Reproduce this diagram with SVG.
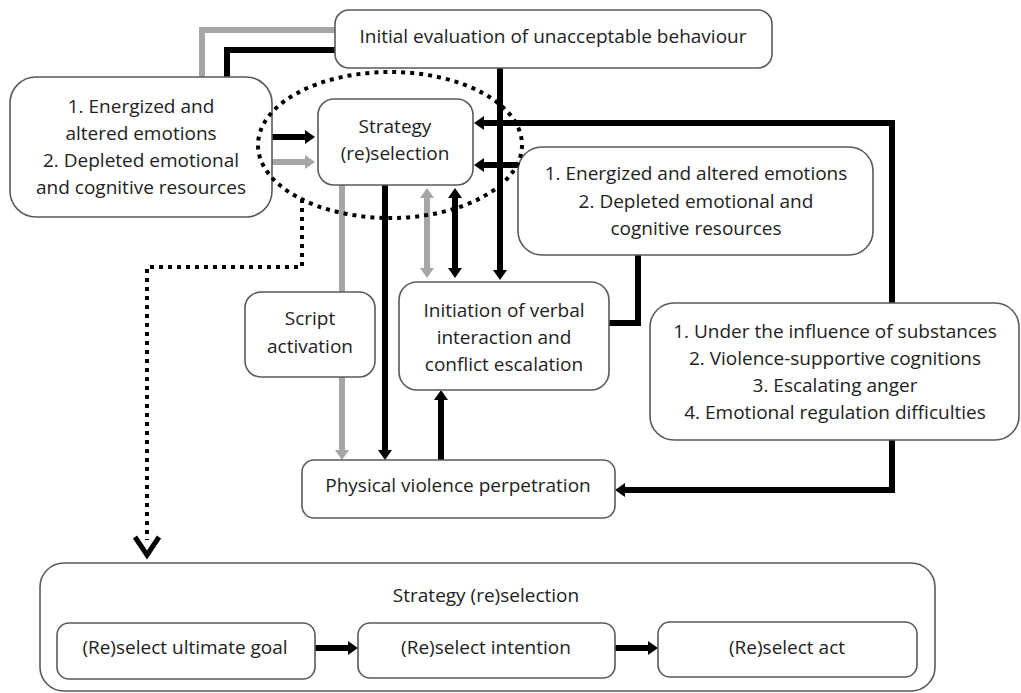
<svg xmlns="http://www.w3.org/2000/svg" width="1021" height="693" viewBox="0 0 1021 693">
<style>
.box{fill:#fff;stroke:#5a5a5a;stroke-width:1.6}
.frame{fill:none;stroke:#5a5a5a;stroke-width:1.6}
.t{font-family:"Open Sans","Liberation Sans",sans-serif;font-size:19px;fill:#222;text-anchor:middle}
.k{fill:none;stroke:#000;stroke-width:6}
.g{fill:none;stroke:#a6a6a6;stroke-width:6}
.dot{fill:none;stroke:#000;stroke-width:4;stroke-dasharray:4 5}
</style>
<defs>
<marker id="ak" viewBox="0 0 10 14" refX="2" refY="7" markerWidth="10" markerHeight="14" markerUnits="userSpaceOnUse" orient="auto-start-reverse"><path d="M0,0 L10,7 L0,14 z" fill="#000"/></marker>
<marker id="ag" viewBox="0 0 10 14" refX="2" refY="7" markerWidth="10" markerHeight="14" markerUnits="userSpaceOnUse" orient="auto-start-reverse"><path d="M0,0 L10,7 L0,14 z" fill="#a6a6a6"/></marker>
</defs>
<rect width="1021" height="693" fill="#fff"/>
<g id="node-strategy-detail">
<rect class="frame" x="40" y="563" width="895" height="128" rx="24"/>
<text class="t" x="486" y="602">Strategy (re)selection</text>
</g>
<g id="connectors">
<path class="g" d="M335,30 H202 V77"/>
<path class="k" d="M335,50 H227 V77"/>
<path class="k" d="M272,137 H307" marker-end="url(#ak)"/>
<path class="g" d="M272,162 H307" marker-end="url(#ag)"/>
<path class="k" d="M500,68 V272" marker-end="url(#ak)"/>
<path class="k" d="M892,303 V123 H482" marker-end="url(#ak)"/>
<path class="k" d="M518,165 H482" marker-end="url(#ak)"/>
<path class="k" d="M638,255 V323 H609"/>
<path class="k" d="M385,185 V452" marker-end="url(#ak)"/>
<path class="g" d="M342,185 V292"/>
<path class="g" d="M342,377 V452" marker-end="url(#ag)"/>
<path class="g" d="M427,196 V270" marker-start="url(#ag)" marker-end="url(#ag)"/>
<path class="k" d="M455,196 V270" marker-start="url(#ak)" marker-end="url(#ak)"/>
<path class="k" d="M441,460 V398" marker-end="url(#ak)"/>
<path class="k" d="M892,440 V490 H623" marker-end="url(#ak)"/>
<path class="k" d="M315,648 H350" marker-end="url(#ak)"/>
<path class="k" d="M615,648 H650" marker-end="url(#ak)"/>
<path class="dot" d="M302,199 V267 H147 V540"/>
<path d="M135,537 L147,555 L159,537" fill="none" stroke="#000" stroke-width="5"/>
</g>
<g id="node-initial">
<rect class="box" x="335" y="10" width="437" height="58" rx="14"/>
<text class="t" x="553" y="43">Initial evaluation of unacceptable behaviour</text>
</g>
<g id="node-left-emotions">
<rect class="box" x="10" y="77" width="262" height="140" rx="26"/>
<text class="t" x="141" y="113">1. Energized and</text>
<text class="t" x="141" y="140">altered emotions</text>
<text class="t" x="141" y="167">2. Depleted emotional</text>
<text class="t" x="141" y="194">and cognitive resources</text>
</g>
<g id="node-strategy">
<rect class="box" x="318" y="99" width="155" height="86" rx="16"/>
<text class="t" x="395" y="133">Strategy</text>
<text class="t" x="395" y="160">(re)selection</text>
</g>
<g id="node-right-emotions">
<rect class="box" x="518" y="147" width="355" height="108" rx="24"/>
<text class="t" x="696" y="180">1. Energized and altered emotions</text>
<text class="t" x="696" y="208">2. Depleted emotional and</text>
<text class="t" x="696" y="235">cognitive resources</text>
</g>
<g id="node-script">
<rect class="box" x="245" y="292" width="130" height="85" rx="16"/>
<text class="t" x="310" y="325">Script</text>
<text class="t" x="310" y="353">activation</text>
</g>
<g id="node-initiation">
<rect class="box" x="399" y="282" width="210" height="108" rx="18"/>
<text class="t" x="504" y="317">Initiation of verbal</text>
<text class="t" x="504" y="344">interaction and</text>
<text class="t" x="504" y="371">conflict escalation</text>
</g>
<g id="node-influences">
<rect class="box" x="650" y="303" width="369" height="137" rx="24"/>
<text class="t" x="835" y="338">1. Under the influence of substances</text>
<text class="t" x="835" y="365">2. Violence-supportive cognitions</text>
<text class="t" x="835" y="392">3. Escalating anger</text>
<text class="t" x="835" y="419">4. Emotional regulation difficulties</text>
</g>
<g id="node-physical">
<rect class="box" x="302" y="460" width="313" height="58" rx="12"/>
<text class="t" x="458" y="492">Physical violence perpetration</text>
</g>
<g id="node-goal">
<rect class="box" x="57" y="623" width="258" height="56" rx="12"/>
<text class="t" x="185" y="654">(Re)select ultimate goal</text>
</g>
<g id="node-intention">
<rect class="box" x="358" y="623" width="257" height="55" rx="12"/>
<text class="t" x="486" y="654">(Re)select intention</text>
</g>
<g id="node-act">
<rect class="box" x="658" y="622" width="259" height="55" rx="12"/>
<text class="t" x="787" y="654">(Re)select act</text>
</g>
<g id="strategy-grouping">
<ellipse class="dot" cx="390" cy="145" rx="132" ry="73"/>
</g>
</svg>
